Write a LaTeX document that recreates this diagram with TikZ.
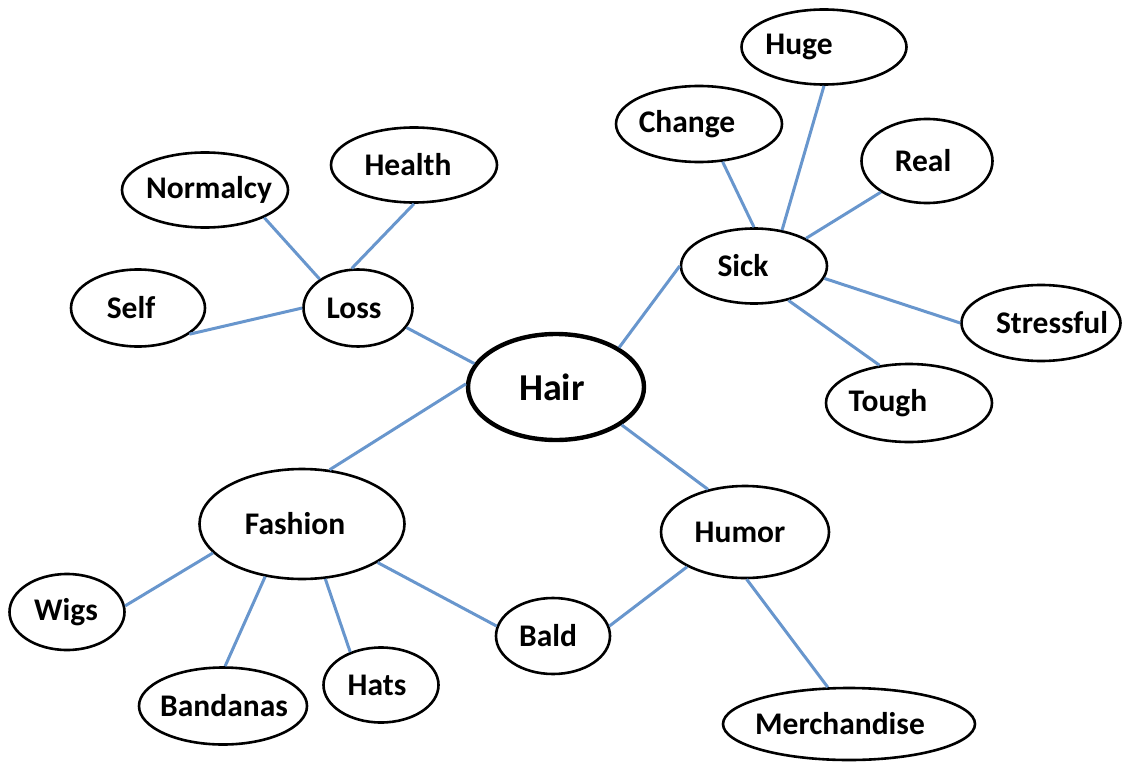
\documentclass[tikz,border=0pt]{standalone}
\usepackage{fontspec}
\setmainfont{Carlito}
\usetikzlibrary{shapes.geometric}
\definecolor{linkblue}{RGB}{104,150,205}
\tikzset{
  bub/.style={ellipse, draw=black, line width=2.6pt, inner sep=0pt, fill=white},
  lbl/.style={font=\fontsize{31.5}{34}\selectfont\bfseries, inner sep=0pt},
  big/.style={font=\fontsize{38}{41}\selectfont\bfseries, inner sep=0pt},
  link/.style={draw=linkblue, line width=3pt},
}
\begin{document}
\begin{tikzpicture}[x=1pt,y=-1pt]
\useasboundingbox (0,0) rectangle (1123,762);
% nodes
\node[bub, line width=4.4pt, minimum width=176pt, minimum height=106pt,
      label={[big,xshift=-4pt]center:Hair}] (hair) at (556,387) {};
\node[bub, minimum width=109pt, minimum height=77pt,
      label={[lbl,xshift=-4pt]center:Loss}] (loss) at (358,308) {};
\node[bub, minimum width=134pt, minimum height=77pt,
      label={[lbl,xshift=-7pt]center:Self}] (self) at (138,308) {};
\node[bub, minimum width=166pt, minimum height=75pt,
      label={[lbl,xshift=4pt]center:Normalcy}] (normalcy) at (205,190) {};
\node[bub, minimum width=166pt, minimum height=75pt,
      label={[lbl,xshift=-6pt]center:Health}] (health) at (414,165) {};
\node[bub, minimum width=146pt, minimum height=75pt,
      label={[lbl,xshift=-11pt]center:Sick}] (sick) at (754,266) {};
\node[bub, minimum width=166pt, minimum height=76pt,
      label={[lbl,xshift=-12pt]center:Change}] (change) at (699,124) {};
\node[bub, minimum width=165pt, minimum height=75pt,
      label={[lbl,xshift=-25pt]center:Huge}] (huge) at (824,47) {};
\node[bub, minimum width=131pt, minimum height=84pt,
      label={[lbl,xshift=-4pt]center:Real}] (real) at (927,161) {};
\node[bub, minimum width=159pt, minimum height=76pt,
      label={[lbl,xshift=11pt]center:Stressful}] (stressful) at (1041,323) {};
\node[bub, minimum width=166pt, minimum height=78pt,
      label={[lbl,xshift=-21pt]center:Tough}] (tough) at (909,403) {};
\node[bub, minimum width=205pt, minimum height=110pt,
      label={[lbl,xshift=-7pt]center:Fashion}] (fashion) at (302,524) {};
\node[bub, minimum width=115pt, minimum height=76pt,
      label={[lbl,xshift=-1pt]center:Wigs}] (wigs) at (67,612) {};
\node[bub, minimum width=168pt, minimum height=77pt,
      label={[lbl,xshift=1pt]center:Bandanas}] (bandanas) at (223,706) {};
\node[bub, minimum width=115pt, minimum height=75pt,
      label={[lbl,xshift=-4pt]center:Hats}] (hats) at (381,685) {};
\node[bub, minimum width=114pt, minimum height=76pt,
      label={[lbl,xshift=-5pt]center:Bald}] (bald) at (553,636) {};
\node[bub, minimum width=168pt, minimum height=92pt,
      label={[lbl,xshift=-5pt]center:Humor}] (humor) at (745,532) {};
\node[bub, minimum width=252pt, minimum height=72pt,
      label={[lbl,xshift=-9pt]center:Merchandise}] (merch) at (849,724) {};
% connectors
\draw[link] (loss.143) -- (normalcy.-25);
\draw[link] (loss.99) -- (health.-90);
\draw[link] (loss.180) -- (self.-27);
\draw[link] (loss.-22) -- (hair.164);
\draw[link] (hair.32) -- (sick.180);
\draw[link] (sick.90) -- (change.-58);
\draw[link] (sick.52) -- (huge.-90);
\draw[link] (sick.28) -- (real.-146);
\draw[link] (sick.-10) -- (stressful.180);
\draw[link] (sick.-45) -- (tough.128);
\draw[link] (hair.178) -- (fashion.63);
\draw[link] (hair.-30) -- (humor.131);
\draw[link] (fashion.-162) -- (wigs.6);
\draw[link] (fashion.-125) -- (bandanas.87);
\draw[link] (fashion.-67) -- (hats.133);
\draw[link] (fashion.-27) -- (bald.170);
\draw[link] (humor.-149) -- (bald.10);
\draw[link] (humor.-88) -- (merch.120);
\end{tikzpicture}
\end{document}
